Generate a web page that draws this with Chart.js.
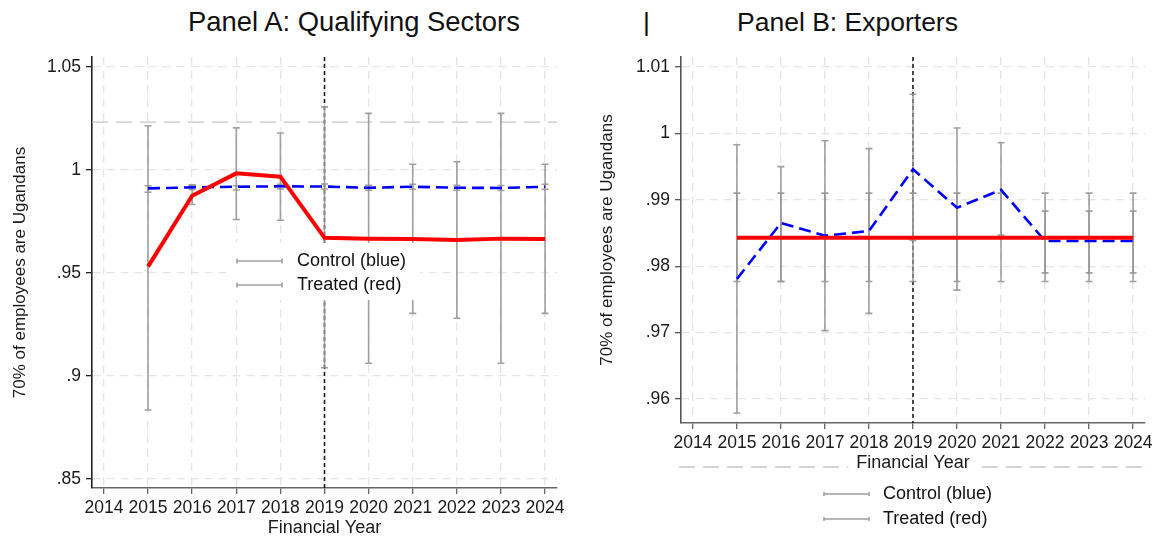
<!DOCTYPE html>
<html>
<head>
<meta charset="utf-8">
<script src="https://cdn.jsdelivr.net/npm/chart.js@4"></script>
<style>
  html, body { margin: 0; padding: 0; background: #fff; }
  #wrap { position: relative; width: 1158px; height: 539px; overflow: hidden; font-family: "Liberation Sans", Arial, sans-serif; }
  .ttl { position: absolute; top: 9px; font-size: 26.5px; line-height: 26.5px; color: #111; white-space: nowrap; }
  canvas { position: absolute; top: 0; }
</style>
</head>
<body>
<div id="wrap">
  <div class="ttl" style="left:188px; top:8px; font-size:27.4px; line-height:27.4px;">Panel A: Qualifying Sectors</div>
  <div class="ttl" style="left:643px;">|</div>
  <div class="ttl" style="left:737px;">Panel B: Exporters</div>
  <canvas id="cA" width="579" height="539" style="left:0px;"></canvas>
  <canvas id="cB" width="579" height="539" style="left:579px;"></canvas>
</div>
<script>
// ---------------- DATA ----------------
const years = [2015, 2016, 2017, 2018, 2019, 2020, 2021, 2022, 2023, 2024];
const xTickYears = [2014, 2015, 2016, 2017, 2018, 2019, 2020, 2021, 2022, 2023, 2024];
const eventYear = 2019;

// Panel A: Qualifying Sectors
const aYTicks = [0.85, 0.9, 0.95, 1, 1.05];
const aControl   = [0.9911, 0.9916, 0.9919, 0.9921, 0.9920, 0.9914, 0.9919, 0.9914, 0.9913, 0.9919];
const aControlLo = [0.9892, 0.9905, 0.9903, 0.9908, 0.9908, 0.9902, 0.9907, 0.9902, 0.9901, 0.9907];
const aControlHi = [0.9924, 0.9927, 0.9924, 0.9931, 0.9932, 0.9926, 0.9931, 0.9926, 0.9925, 0.9931];
const aTreated   = [0.9531, 0.9875, 0.9984, 0.9968, 0.9671, 0.9667, 0.9665, 0.9660, 0.9667, 0.9665];
const aTreatedLo = [0.8835, 0.9833, 0.9760, 0.9756, 0.9040, 0.9062, 0.9304, 0.9280, 0.9062, 0.9304];
const aTreatedHi = [1.0215, 0.9927, 1.0205, 1.0180, 1.0307, 1.0275, 1.0028, 1.0040, 1.0275, 1.0028];
const aRefLine = 1.0233;

// Panel B: Exporters
const bYTicks = [0.96, 0.97, 0.98, 0.99, 1, 1.01];
const bControl   = [0.9781, 0.9865, 0.9846, 0.9853, 0.9946, 0.9888, 0.9915, 0.9838, 0.9838, 0.9838];
const bControlLo = [0.9579, 0.9777, 0.9703, 0.9729, 0.9839, 0.9764, 0.9847, 0.9790, 0.9790, 0.9790];
const bControlHi = [0.9983, 0.9950, 0.9989, 0.9977, 1.0059, 1.0008, 0.9986, 0.9883, 0.9883, 0.9883];
const bTreated   = [0.9843, 0.9843, 0.9843, 0.9843, 0.9843, 0.9843, 0.9843, 0.9843, 0.9843, 0.9843];
const bTreatedLo = [0.9777, 0.9777, 0.9777, 0.9777, 0.9777, 0.9777, 0.9777, 0.9777, 0.9777, 0.9777];
const bTreatedHi = [0.9910, 0.9910, 0.9910, 0.9910, 0.9910, 0.9910, 0.9910, 0.9910, 0.9910, 0.9910];

const legendLabels = ['Control (blue)', 'Treated (red)'];
const xTitle = 'Financial Year';
const yTitle = '70% of employees are Ugandans';

// ---------------- STYLE / HELPERS ----------------
const FAM = '"Liberation Sans", Arial, sans-serif';
const GRID = '#e4e4e4';
const EB = 'rgba(150,150,150,0.9)';
const fmtY = v => String(+(+v).toFixed(3)).replace(/^0\./, '.');
const pts = (xs, ys) => xs.map((x, i) => ({ x, y: ys[i] }));

function overlay(cfg) {
  return {
    id: 'overlay',
    beforeDatasetsDraw(chart) {
      const { ctx, chartArea: ca, scales: { x, y } } = chart;
      ctx.save();
      if (cfg.refY != null) {
        const py = y.getPixelForValue(cfg.refY);
        ctx.strokeStyle = '#c4c4c4'; ctx.lineWidth = 1.3; ctx.setLineDash([16, 8]);
        ctx.beginPath(); ctx.moveTo(ca.left, py); ctx.lineTo(ca.right, py); ctx.stroke();
      }
      const ex = x.getPixelForValue(cfg.eventX);
      ctx.strokeStyle = '#111'; ctx.lineWidth = 1.5; ctx.setLineDash([4, 3]);
      ctx.beginPath(); ctx.moveTo(ex, ca.top); ctx.lineTo(ex, ca.bottom); ctx.stroke();
      ctx.setLineDash([]);
      ctx.strokeStyle = EB; ctx.lineWidth = 1.6;
      const cap = 3.5;
      cfg.bars.forEach(b => {
        b.lo.forEach((lo, i) => {
          const px = x.getPixelForValue(cfg.xs[i]);
          const p1 = y.getPixelForValue(lo), p2 = y.getPixelForValue(b.hi[i]);
          ctx.beginPath();
          ctx.moveTo(px, p1); ctx.lineTo(px, p2);
          ctx.moveTo(px - cap, p1); ctx.lineTo(px + cap, p1);
          ctx.moveTo(px - cap, p2); ctx.lineTo(px + cap, p2);
          ctx.stroke();
        });
      });
      ctx.restore();
    },
    afterDraw(chart) {
      const { ctx, chartArea: ca, scales: { x } } = chart;
      ctx.save();
      if (cfg.bottomDash) {
        const yy = x.bottom - 6;
        ctx.font = '18px ' + FAM;
        const tw = ctx.measureText(xTitle).width;
        const cx = (x.left + x.right) / 2;
        ctx.strokeStyle = '#c4c4c4'; ctx.lineWidth = 1.3; ctx.setLineDash([16, 8]);
        ctx.beginPath();
        ctx.moveTo(ca.left - 2, yy); ctx.lineTo(cx - tw / 2 - 8, yy);
        ctx.moveTo(cx + tw / 2 + 12, yy); ctx.lineTo(ca.right + 5, yy);
        ctx.stroke();
        ctx.setLineDash([]);
      }
      const L = cfg.legend(ca, chart);
      if (L.box) {
        ctx.fillStyle = '#fff';
        ctx.fillRect(L.box[0], L.box[1], L.box[2], L.box[3]);
      }
      ctx.strokeStyle = EB; ctx.lineWidth = 1.6;
      ctx.font = '18px ' + FAM; ctx.fillStyle = '#111'; ctx.textBaseline = 'middle'; ctx.textAlign = 'left';
      legendLabels.forEach((t, i) => {
        const yy = L.y0 + i * L.dy;
        ctx.beginPath();
        ctx.moveTo(L.sx, yy); ctx.lineTo(L.sx + L.sw, yy);
        ctx.moveTo(L.sx, yy - L.cap); ctx.lineTo(L.sx, yy + L.cap);
        ctx.moveTo(L.sx + L.sw, yy - L.cap); ctx.lineTo(L.sx + L.sw, yy + L.cap);
        ctx.stroke();
        ctx.fillText(t, L.tx, yy);
      });
      ctx.restore();
    }
  };
}

function makeChart(id, o) {
  return new Chart(document.getElementById(id), {
    type: 'line',
    data: {
      datasets: [
        { label: legendLabels[0], data: pts(years, o.ctrl), borderColor: '#0000ff', borderWidth: 2.6,
          borderDash: [12, 6], pointRadius: 0, fill: false, tension: 0, order: 2 },
        { label: legendLabels[1], data: pts(years, o.treat), borderColor: '#ff0000', borderWidth: 4,
          pointRadius: 0, fill: false, tension: 0, order: 1 }
      ]
    },
    options: {
      responsive: false,
      animation: false,
      layout: { padding: { top: 57, right: o.padRight, left: 0, bottom: o.padBottom } },
      plugins: { legend: { display: false }, tooltip: { enabled: false }, title: { display: false } },
      scales: {
        x: {
          type: 'linear', min: 2013.73, max: 2024.27,
          afterBuildTicks: s => { s.ticks = xTickYears.map(v => ({ value: v })); },
          afterFit: s => { s.height = o.xHeight; },
          ticks: { callback: v => String(v), autoSkip: false, maxRotation: 0, padding: 3.5,
                   color: '#1a1a1a', font: { family: FAM, size: 17.5 } },
          grid: { color: GRID, lineWidth: 1.3, tickLength: 6, tickColor: '#666', tickWidth: 1.3 },
          border: { color: '#666', width: 1.6, dash: [8, 6] },
          title: { display: true, text: xTitle, color: '#1a1a1a',
                   font: { family: FAM, size: 18, lineHeight: 1 }, padding: { top: 0, bottom: o.xTitlePad } }
        },
        y: {
          min: o.yMin, max: o.yMax,
          afterBuildTicks: s => { s.ticks = o.yTicks.map(v => ({ value: v })); },
          afterFit: s => { s.width = o.yWidth; },
          ticks: { callback: v => fmtY(v), padding: 5, color: '#1a1a1a', font: { family: FAM, size: 17.5 } },
          grid: { color: GRID, lineWidth: 1.3, tickLength: 6, tickColor: o.yAxisColor, tickWidth: 1.3 },
          border: { color: o.yAxisColor, width: 1.6, dash: [8, 6] },
          title: { display: true, text: yTitle, color: '#1a1a1a',
                   font: { family: FAM, size: 17, lineHeight: 1 }, padding: { top: o.yTitlePad, bottom: 0 } }
        }
      }
    },
    plugins: [overlay({
      xs: years, eventX: eventYear, refY: o.refY, bottomDash: o.bottomDash,
      bars: [{ lo: o.ctrlLo, hi: o.ctrlHi }, { lo: o.treatLo, hi: o.treatHi }],
      legend: o.legend
    })]
  });
}

makeChart('cA', {
  ctrl: aControl, ctrlLo: aControlLo, ctrlHi: aControlHi,
  treat: aTreated, treatLo: aTreatedLo, treatHi: aTreatedHi,
  yTicks: aYTicks, yMin: 0.8456, yMax: 1.0549, refY: aRefLine, bottomDash: false,
  padRight: 22, padBottom: 0, xHeight: 51, xTitlePad: 2, yWidth: 92, yTitlePad: 12.2,
  yAxisColor: '#222',
  legend: ca => ({ box: [ca.left + 134, ca.top + 186, 194, 57],
                   sx: ca.left + 145, sw: 45, cap: 2.5, tx: ca.left + 205, y0: ca.top + 204, dy: 24 })
});

makeChart('cB', {
  ctrl: bControl, ctrlLo: bControlLo, ctrlHi: bControlHi,
  treat: bTreated, treatLo: bTreatedLo, treatHi: bTreatedHi,
  yTicks: bYTicks, yMin: 0.9564, yMax: 1.0115, refY: null, bottomDash: true,
  padRight: 13, padBottom: 66, xHeight: 50, xTitlePad: 1, yWidth: 102, yTitlePad: 19.5,
  yAxisColor: '#555',
  legend: (ca, chart) => ({ box: null,
                   sx: ca.left + 143, sw: 45, cap: 2, tx: ca.left + 202, y0: chart.height - 45, dy: 25 })
});
</script>
</body>
</html>
